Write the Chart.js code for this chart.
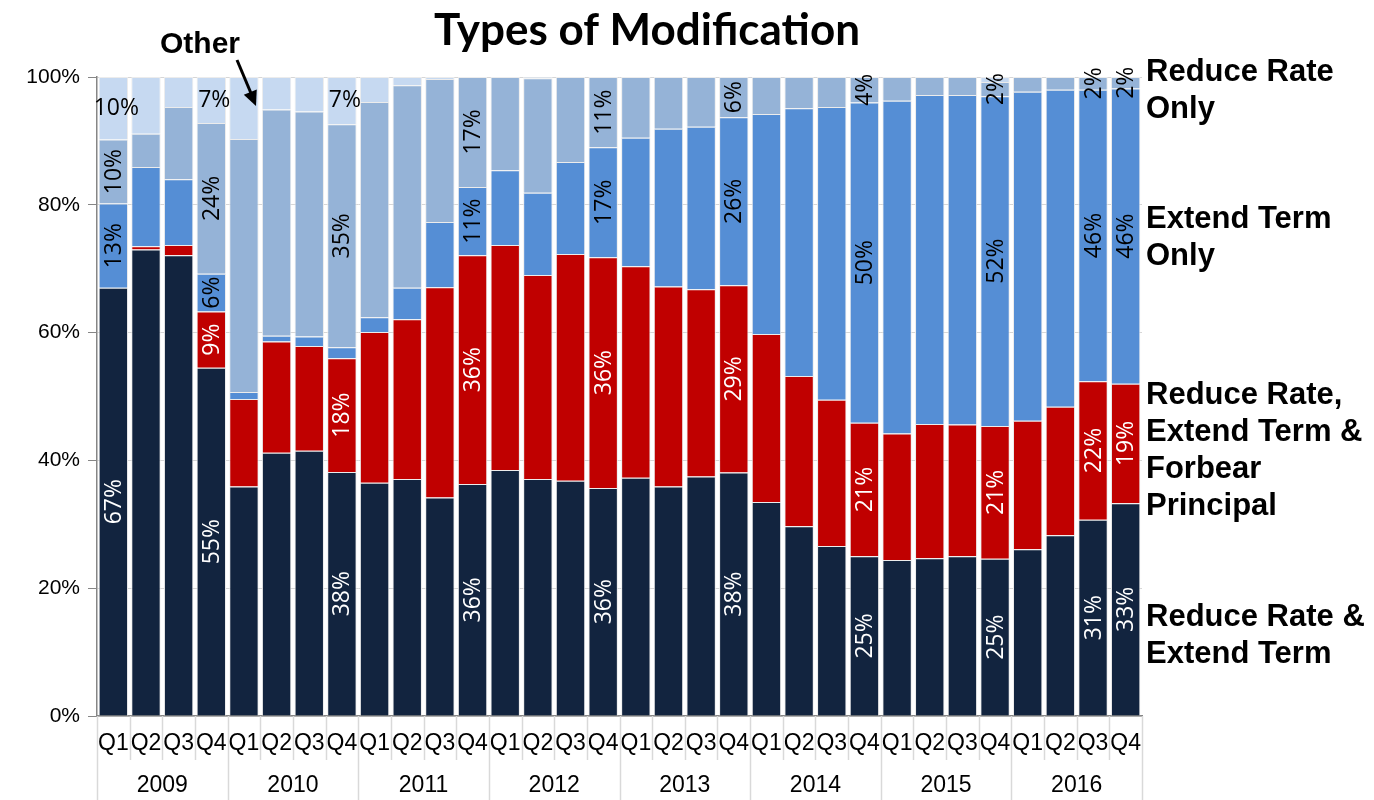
<!DOCTYPE html>
<html>
<head>
<meta charset="utf-8">
<title>Types of Modification</title>
<script src="https://cdn.jsdelivr.net/npm/chart.js@4.4.1/dist/chart.umd.min.js"></script>
<style>
    body { margin: 0; background: #ffffff; }
    #wrap { position: relative; width: 1374px; height: 800px; }
</style>
</head>
<body>
<div id="wrap"><canvas id="modChart" width="1374" height="800"></canvas></div>
<script>
/* Types of Modification - stacked 100% bars by quarter */
const quarters = ["Q1", "Q2", "Q3", "Q4"];
const years = ["2009", "2010", "2011", "2012", "2013", "2014", "2015", "2016"];

const reduceRateExtendTerm = [67.0, 73.0, 72.1, 54.5, 35.9, 41.2, 41.5, 38.2, 36.5, 37.1, 34.2, 36.3, 38.5, 37.1, 36.8, 35.7,
    37.3, 35.9, 37.5, 38.1, 33.5, 29.7, 26.6, 25.0, 24.4, 24.7, 25.0, 24.6, 26.1, 28.3, 30.7, 33.3];
const forbearPrincipal = [0, 0.5, 1.6, 8.8, 13.7, 17.4, 16.4, 17.8, 23.6, 25.0, 32.9, 35.8, 35.2, 31.9, 35.5, 36.1,
    33.1, 31.3, 29.3, 29.3, 26.3, 23.5, 22.9, 20.9, 19.8, 21.0, 20.6, 20.8, 20.1, 20.1, 21.7, 18.7];
const extendTermOnly = [13.2, 12.4, 10.3, 5.9, 1.1, 0.9, 1.5, 1.7, 2.3, 4.9, 10.2, 10.7, 11.7, 12.9, 14.4, 17.2,
    20.1, 24.7, 25.4, 26.3, 34.4, 41.9, 45.8, 50.1, 52.1, 51.5, 51.6, 51.6, 51.5, 49.6, 45.6, 46.2];
const reduceRateOnly = [10.0, 5.2, 11.3, 23.6, 39.6, 35.4, 35.2, 34.9, 33.7, 31.7, 22.4, 17.2, 14.6, 17.9, 13.3, 11.0,
    9.5, 8.1, 7.8, 6.3, 5.8, 4.9, 4.7, 4.0, 3.7, 2.8, 2.8, 2.2, 2.3, 2.0, 2.0, 1.8];
const other = [9.8, 8.9, 4.7, 7.2, 9.7, 5.1, 5.4, 7.4, 3.9, 1.3, 0.3, 0, 0, 0.2, 0, 0,
    0, 0, 0, 0, 0, 0, 0, 0, 0, 0, 0, 0.8, 0, 0, 0, 0];
const yTicks = [0, 20, 40, 60, 80, 100];

// bars that carry value labels (2009 Q1, every Q4, 2016 Q3)
const labelledBars = [0, 3, 7, 11, 15, 19, 23, 27, 30, 31];

const labels = [];
years.forEach(function (y) {
    quarters.forEach(function (q) { labels.push(q); });
});

const sideNotes = [
    { lines: ["Reduce Rate", "Only"], y: 72 },
    { lines: ["Extend Term", "Only"], y: 219 },
    { lines: ["Reduce Rate,", "Extend Term &", "Forbear", "Principal"], y: 395 },
    { lines: ["Reduce Rate &", "Extend Term"], y: 617 }
];

const textColor = "#000000";
const axisGray = "#868686";

const decorPlugin = {
    id: "decor",
    afterDatasetsDraw: function (chart) {
        const ctx = chart.ctx;
        ctx.save();
        ctx.textAlign = "center";
        ctx.textBaseline = "middle";
        ctx.font = "23px 'Open Sans'";
        chart.data.datasets.forEach(function (ds, di) {
            const meta = chart.getDatasetMeta(di);
            meta.data.forEach(function (bar, i) {
                const v = ds.data[i];
                if (labelledBars.indexOf(i) < 0 || v < 1.75) return;
                const txt = Math.round(v) + "%";
                const cy = (bar.y + bar.base) / 2;
                ctx.fillStyle = ds.labelColor;
                if (ds.horizontalLabel) {
                    ctx.fillText(txt, bar.x + 3, cy);
                } else {
                    ctx.save();
                    ctx.translate(bar.x, cy);
                    ctx.rotate(-Math.PI / 2);
                    ctx.fillText(txt, 0, 1);
                    ctx.restore();
                }
            });
        });
        ctx.restore();
    },
    afterDraw: function (chart) {
        const ctx = chart.ctx;
        const x = chart.scales.x;
        const area = chart.chartArea;
        const step = x.getPixelForValue(1) - x.getPixelForValue(0);
        ctx.save();

        // category separators under the axis
        ctx.strokeStyle = "#D9D9D9";
        ctx.lineWidth = 1.5;
        for (let i = 0; i <= labels.length; i++) {
            const px = Math.round(x.getPixelForValue(i) - step / 2) + 0.5;
            const yearEdge = i % 4 === 0;
            ctx.beginPath();
            ctx.moveTo(px, area.bottom);
            ctx.lineTo(px, yearEdge ? 800 : 760);
            ctx.stroke();
        }

        // year labels
        ctx.fillStyle = textColor;
        ctx.textAlign = "center";
        ctx.textBaseline = "middle";
        ctx.font = "23px 'Liberation Sans'";
        years.forEach(function (yr, k) {
            const cx = (x.getPixelForValue(k * 4) + x.getPixelForValue(k * 4 + 3)) / 2;
            ctx.fillText(yr, cx, 786);
        });

        // title
        ctx.font = "bold 44px Lato";
        ctx.fillText("Types of Modification", 647, 31);

        // side notes
        ctx.textAlign = "left";
        ctx.font = "bold 31px 'Liberation Sans'";
        sideNotes.forEach(function (n) {
            n.lines.forEach(function (ln, j) {
                ctx.fillText(ln, 1146, n.y + j * 37);
            });
        });

        // "Other" callout with arrow
        ctx.font = "bold 30px 'Liberation Sans'";
        ctx.fillText("Other", 160, 45);
        const ax0 = 237, ay0 = 60, ax1 = 256, ay1 = 106;
        ctx.strokeStyle = "#000000";
        ctx.lineWidth = 3;
        ctx.beginPath();
        ctx.moveTo(ax0, ay0);
        ctx.lineTo(ax1 - 3, ay1 - 8);
        ctx.stroke();
        const ang = Math.atan2(ay1 - ay0, ax1 - ax0);
        ctx.fillStyle = "#000000";
        ctx.beginPath();
        ctx.moveTo(ax1, ay1);
        ctx.lineTo(ax1 - 15 * Math.cos(ang) + 7 * Math.sin(ang), ay1 - 15 * Math.sin(ang) - 7 * Math.cos(ang));
        ctx.lineTo(ax1 - 15 * Math.cos(ang) - 7 * Math.sin(ang), ay1 - 15 * Math.sin(ang) + 7 * Math.cos(ang));
        ctx.closePath();
        ctx.fill();

        ctx.restore();
    }
};

function series(name, data, color, labelColor, horizontal) {
    return {
        label: name,
        data: data,
        backgroundColor: color,
        borderColor: "#ECECEC",
        borderWidth: 1,
        labelColor: labelColor,
        horizontalLabel: !!horizontal,
        barPercentage: 0.9,
        categoryPercentage: 1.0
    };
}

new Chart(document.getElementById("modChart"), {
    type: "bar",
    data: {
        labels: labels,
        datasets: [
            series("Reduce Rate & Extend Term", reduceRateExtendTerm, "#12243F", "#FFFFFF"),
            series("Reduce Rate, Extend Term & Forbear Principal", forbearPrincipal, "#C00000", "#FFFFFF"),
            series("Extend Term Only", extendTermOnly, "#558ED5", "#000000"),
            series("Reduce Rate Only", reduceRateOnly, "#95B3D7", "#000000"),
            series("Other", other, "#C6D9F1", "#000000", true)
        ]
    },
    options: {
        responsive: false,
        animation: false,
        events: [],
        layout: {
            padding: { top: 77, right: 232, left: 0, bottom: 0 }
        },
        plugins: {
            legend: { display: false },
            tooltip: { enabled: false },
            title: { display: false }
        },
        scales: {
            x: {
                stacked: true,
                afterFit: function (scale) { scale.height = 84; },
                grid: { display: false, drawTicks: false },
                border: { display: true, color: axisGray, width: 1.5 },
                ticks: {
                    color: textColor,
                    font: { family: "'Liberation Sans'", size: 23 },
                    padding: 14,
                    maxRotation: 0,
                    autoSkip: false
                }
            },
            y: {
                stacked: true,
                min: 0,
                max: 100,
                afterFit: function (scale) { scale.width = 97; },
                afterBuildTicks: function (scale) {
                    scale.ticks = yTicks.map(function (v) { return { value: v }; });
                },
                grid: {
                    color: "#D6D6D6",
                    tickColor: axisGray,
                    tickLength: 9,
                    lineWidth: 1
                },
                border: { display: true, color: axisGray, width: 1.5 },
                ticks: {
                    color: textColor,
                    font: { family: "'Liberation Sans'", size: 21 },
                    padding: 8,
                    callback: function (v) { return v + "%"; }
                }
            }
        }
    },
    plugins: [decorPlugin]
});
</script>
</body>
</html>
